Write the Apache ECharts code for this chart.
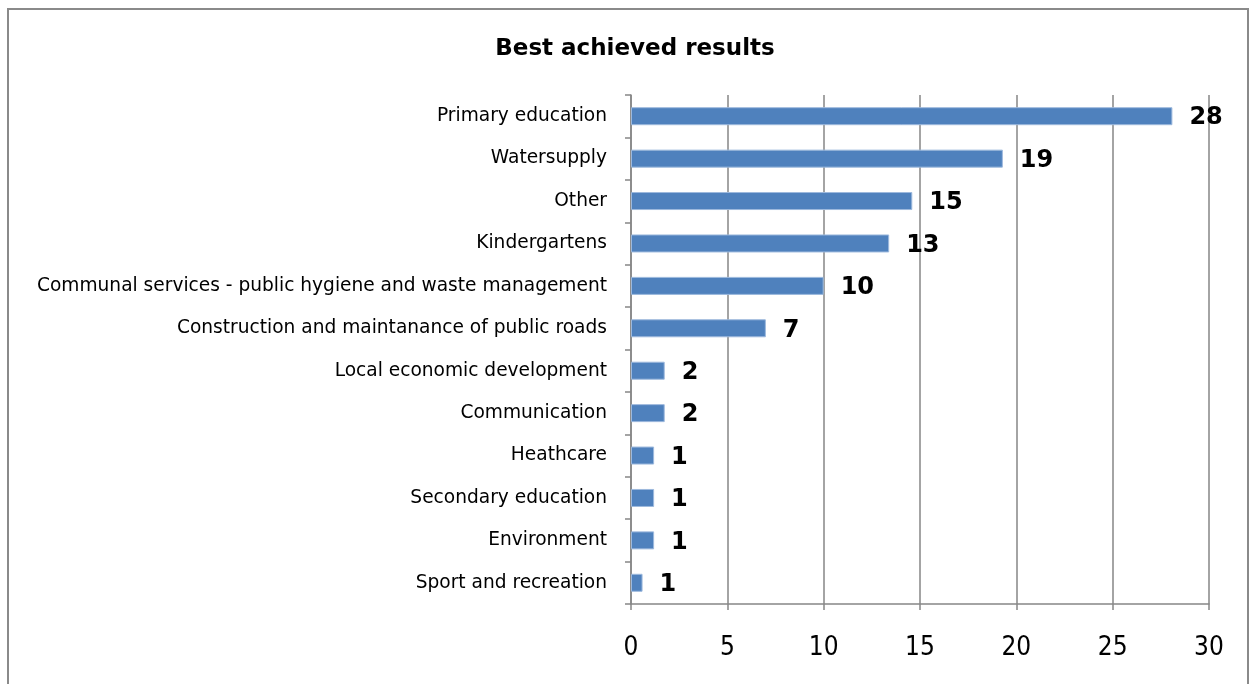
<!DOCTYPE html>
<html>
<head>
<meta charset="utf-8">
<script src="https://cdn.jsdelivr.net/npm/echarts@6/dist/echarts.min.js"></script>
<style>
html,body{margin:0;padding:0;background:#fff;}
#chart{width:1254px;height:684px;}
</style>
</head>
<body>
<div id="chart"></div>
<script>
const categories = [
  "Primary education",
  "Watersupply",
  "Other",
  "Kindergartens",
  "Communal services - public hygiene and waste management",
  "Construction and maintanance of public roads",
  "Local economic development",
  "Communication",
  "Heathcare",
  "Secondary education",
  "Environment",
  "Sport and recreation"
];
const barValues = [28.1, 19.3, 14.6, 13.4, 10.0, 7.0, 1.75, 1.75, 1.2, 1.2, 1.2, 0.6];
const labelValues = [28, 19, 15, 13, 10, 7, 2, 2, 1, 1, 1, 1];
const xTicks = [0, 5, 10, 15, 20, 25, 30];

const chart = echarts.init(document.getElementById('chart'));
const gray = '#868686';
chart.setOption({
  backgroundColor: '#ffffff',
  animation: false,
  title: {
    text: 'Best achieved results',
    left: 630,
    textAlign: 'center',
    top: 33,
    textStyle: {fontFamily: 'DejaVu Sans', fontWeight: 'bold', fontSize: 23, color: '#000'}
  },
  graphic: [{
    type: 'rect',
    shape: {x: 8, y: 9, width: 1240, height: 720},
    style: {fill: 'none', stroke: '#8a8a8a', lineWidth: 2},
    silent: true
  }],
  grid: {left: 631, right: 45, top: 95, bottom: 80, containLabel: false},
  xAxis: {
    type: 'value',
    min: xTicks[0],
    max: xTicks[xTicks.length - 1],
    interval: 5,
    axisLine: {show: true, lineStyle: {color: gray, width: 1.5}},
    axisTick: {show: true, length: 6, lineStyle: {color: gray, width: 1.5}},
    splitLine: {show: true, lineStyle: {color: gray, width: 1.5}},
    axisLabel: {
      margin: 31, fontFamily: 'DejaVu Sans Condensed', fontSize: 26, color: '#000'
    }
  },
  yAxis: {
    type: 'category',
    inverse: true,
    data: categories,
    axisLine: {show: true, lineStyle: {color: gray, width: 1.5}},
    axisTick: {show: true, length: 6, lineStyle: {color: gray, width: 1.5}},
    axisLabel: {margin: 24, fontFamily: 'DejaVu Sans', fontSize: 18.6, color: '#000'}
  },
  series: [{
    type: 'bar',
    data: barValues,
    barWidth: 18,
    itemStyle: {color: '#4F81BD', borderColor: '#9DB9DD', borderWidth: 1},
    label: {
      show: true,
      position: 'right',
      distance: 17,
      formatter: p => String(labelValues[p.dataIndex]),
      fontFamily: 'DejaVu Sans',
      fontWeight: 'bold',
      fontSize: 24,
      color: '#000',
      offset: [0, 2]
    }
  }]
});
</script>
</body>
</html>
